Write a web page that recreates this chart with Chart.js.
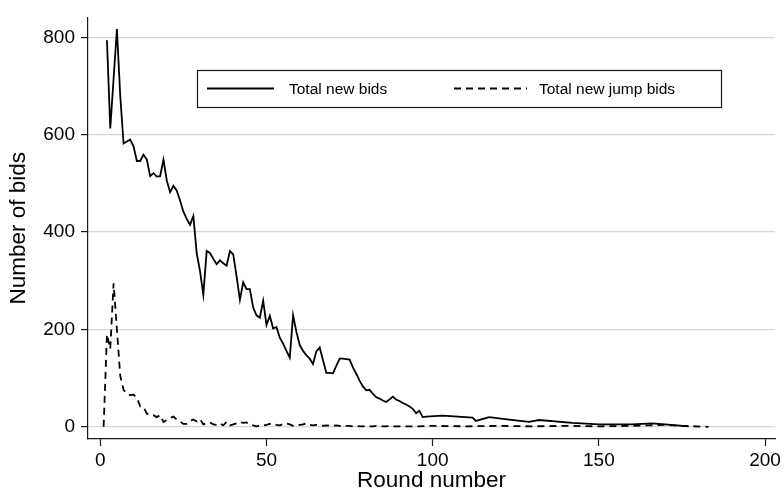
<!DOCTYPE html>
<html>
<head>
<meta charset="utf-8">
<script src="https://cdn.jsdelivr.net/npm/chart.js@4.4.1/dist/chart.umd.min.js"></script>
<style>
  html, body { margin: 0; padding: 0; background: #ffffff; }
  #wrap { width: 784px; height: 492px; position: relative; }
</style>
</head>
<body>
<div id="wrap"><canvas id="c" width="784" height="492"></canvas></div>
<script>
// ---- Data ----
const seriesLabels = ["Total new bids", "Total new jump bids"];

const bidRounds = [
  2, 3, 4, 5, 6, 7, 8, 9, 10, 11, 12, 13, 14, 15, 16, 17, 18, 19, 20,
  21, 22, 23, 24, 25, 26, 27, 28, 29, 30, 31, 32, 33, 34, 35, 36, 37, 38, 39, 40,
  41, 42, 43, 44, 45, 46, 47, 48, 49, 50, 51, 52, 53, 54, 55, 56, 57, 58, 59, 60,
  61, 62, 63, 64, 65, 66, 67, 68, 69, 70, 71, 72, 73, 74, 75, 76, 77, 78, 79, 80,
  81, 82, 83, 84, 85, 86, 87, 88, 89, 90, 91, 92, 93, 94, 95, 96, 97, 98,
  103, 112, 113, 117, 123, 129, 132, 142, 150, 160, 166, 170, 177
];
const bidValues = [
  794, 613, 715, 817, 680, 582, 586, 590, 576, 546, 546, 559, 549, 515, 521, 514, 515, 549, 506,
  482, 495, 485, 465, 442, 427, 415, 433, 357, 320, 271, 361, 357, 345, 334, 342, 336, 331, 361, 354,
  309, 261, 297, 283, 283, 245, 229, 224, 259, 209, 228, 202, 205, 183, 171, 156, 142, 229, 195, 168,
  156, 147, 140, 129, 155, 163, 137, 111, 111, 110, 125, 140, 140, 139, 138, 122, 109, 95, 83, 75,
  76, 68, 61, 58, 54, 51, 56, 62, 56, 53, 49, 46, 42, 37, 28, 33, 20, 21,
  23, 19, 12, 20, 15, 10, 14, 8, 5, 5, 7, 5, 1
];

const jumpRounds = [
  1, 2, 3, 4, 5, 6, 7, 8, 9, 10, 11, 12, 13, 14, 15, 16, 17, 18, 19, 20,
  21, 22, 23, 24, 25, 26, 27, 28, 29, 30, 31, 32, 33, 34, 35, 36, 37, 38, 39, 40,
  41, 42, 43, 44, 45, 46, 47, 48, 49, 50, 51, 52, 53, 54, 55, 56, 57, 58, 59, 60,
  61, 62, 63, 64, 65, 66, 67, 68, 69, 70, 71, 72, 73, 74, 75, 76, 77, 78, 79, 80,
  81, 82, 83, 84, 85, 86, 87, 88, 89, 90,
  95, 100, 110, 120, 130, 140, 150, 160, 165, 170, 175, 183
];
const jumpValues = [
  0, 190, 160, 295, 200, 105, 76, 68, 65, 66, 60, 42, 41, 27, 25, 24, 20, 24, 10, 14,
  18, 21, 15, 11, 6, 6, 12, 15, 11, 16, 5, 8, 9, 5, 4, 7, 3, 10, 3, 5,
  7, 10, 8, 9, 4, 3, 1, 2, 3, 4, 6, 7, 4, 3, 6, 7, 5, 2, 3, 4,
  5, 7, 4, 3, 4, 3, 2, 3, 2, 2, 3, 2, 1, 2, 2, 1, 2, 1, 1, 2,
  1, 1, 2, 1, 1, 1, 2, 1, 1, 1,
  1, 2, 1, 2, 1, 2, 1, 2, 3, 4, 2, 0
];

const xTicks = [0, 50, 100, 150, 200];
const yTicks = [0, 200, 400, 600, 800];
const xTitle = "Round number";
const yTitle = "Number of bids";

// ---- Build chart ----
const toPoints = (xs, ys) => xs.map((x, i) => ({ x: x, y: ys[i] }));
const FONT = "'Liberation Sans', Arial, Helvetica, sans-serif";

const boxLegend = {
  id: 'boxLegend',
  afterDraw(chart) {
    const ctx = chart.ctx;
    const ds = chart.data.datasets;
    ctx.save();
    ctx.strokeStyle = '#1a1a1a';
    ctx.lineWidth = 1.2;
    ctx.strokeRect(197.5, 70.5, 524, 37);
    const cy = 88.5;
    const items = [
      { x0: 207, x1: 274, tx: 289 },
      { x0: 454, x1: 527, tx: 539 }
    ];
    ctx.font = "15.5px " + FONT;
    ctx.textBaseline = 'middle';
    ctx.fillStyle = '#000';
    items.forEach((it, i) => {
      ctx.beginPath();
      ctx.setLineDash(ds[i].borderDash || []);
      ctx.lineWidth = ds[i].borderWidth;
      ctx.strokeStyle = ds[i].borderColor;
      ctx.moveTo(it.x0, cy);
      ctx.lineTo(it.x1, cy);
      ctx.stroke();
      ctx.setLineDash([]);
      ctx.fillText(ds[i].label, it.tx, cy + 1);
    });
    ctx.restore();
  }
};

new Chart(document.getElementById('c'), {
  type: 'line',
  data: {
    datasets: [
      {
        label: seriesLabels[0],
        data: toPoints(bidRounds, bidValues),
        borderColor: '#000',
        borderWidth: 1.8,
        pointRadius: 0,
        tension: 0,
        fill: false
      },
      {
        label: seriesLabels[1],
        data: toPoints(jumpRounds, jumpValues),
        borderColor: '#000',
        borderWidth: 1.8,
        borderDash: [7, 5],
        pointRadius: 0,
        tension: 0,
        fill: false
      }
    ]
  },
  options: {
    responsive: false,
    animation: false,
    devicePixelRatio: 1,
    layout: { padding: { left: 0, right: 6, top: 13, bottom: 0 } },
    plugins: { legend: { display: false }, tooltip: { enabled: false } },
    scales: {
      x: {
        type: 'linear',
        min: -3.7,
        max: 203,
        afterBuildTicks: (axis) => { axis.ticks = xTicks.map(v => ({ value: v })); },
        afterFit: (scale) => { scale.height = 53; },
        grid: { drawOnChartArea: false, drawTicks: true, tickLength: 7, tickColor: '#1a1a1a', tickWidth: 1.2 },
        border: { display: true, color: '#1a1a1a', width: 1.2 },
        ticks: { color: '#000', font: { family: FONT, size: 19 }, padding: 3, maxRotation: 0, autoSkip: false },
        title: { display: true, text: xTitle, color: '#000', font: { family: FONT, size: 22.5, lineHeight: 1 }, padding: { top: 0, bottom: 0 } }
      },
      y: {
        type: 'linear',
        min: -25,
        max: 841,
        afterBuildTicks: (axis) => { axis.ticks = yTicks.map(v => ({ value: v })); },
        afterFit: (scale) => { scale.width = 88; },
        grid: { drawOnChartArea: true, color: '#d6d6d6', lineWidth: 1.2, drawTicks: true, tickLength: 7, tickColor: '#1a1a1a', tickWidth: 1.2 },
        border: { display: true, color: '#1a1a1a', width: 1.2 },
        ticks: { color: '#000', font: { family: FONT, size: 19 }, padding: 6, autoSkip: false },
        title: { display: true, text: yTitle, color: '#000', font: { family: FONT, size: 22.5, lineHeight: 1 }, padding: { top: 8, bottom: 0 } }
      }
    }
  },
  plugins: [boxLegend]
});
</script>
</body>
</html>
